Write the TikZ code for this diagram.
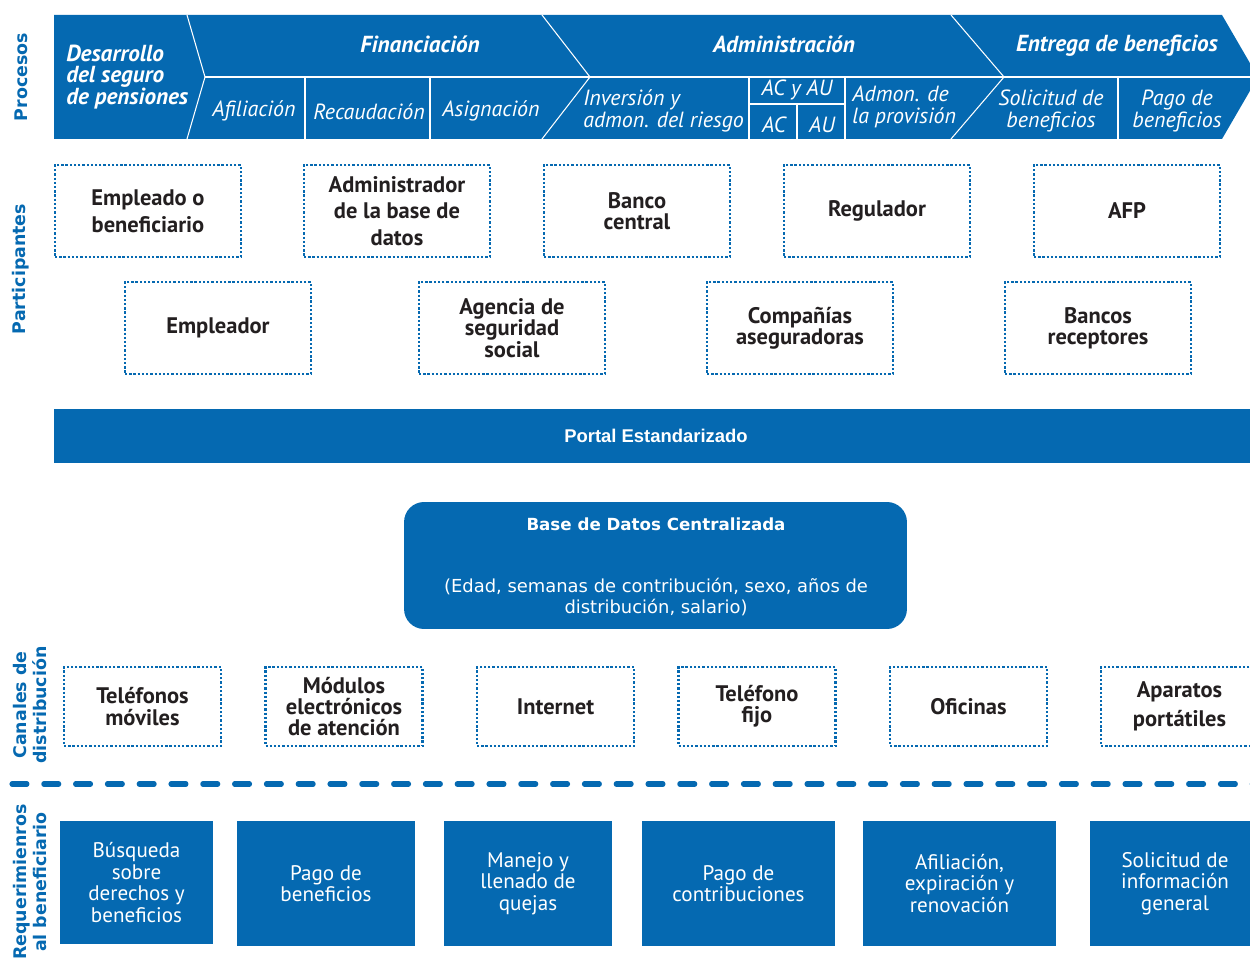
\documentclass[tikz,border=0pt]{standalone}
\usepackage{fontspec}
\setmainfont{PT Sans}
\newfontfamily\dejavu{DejaVu Sans}
\newfontfamily\arialsans{Liberation Sans}

\definecolor{azul}{HTML}{0569B1}
\definecolor{tinta}{HTML}{231F20}

\tikzset{
  participante/.style={draw=azul, line width=1.3pt, dash pattern=on 1.3pt off 1.1pt,
    fill=white, text=tinta, align=center, inner sep=0pt,
    minimum width=3.72cm, minimum height=1.84cm,
    font=\fontsize{12.8}{12.2}\selectfont\bfseries},
  canal/.style={participante, minimum width=3.14cm, minimum height=1.58cm},
  requisito/.style={fill=azul, text=white, align=center, inner sep=0pt,
    minimum height=2.5cm, font=\fontsize{12}{12.2}\selectfont},
  seccion/.style={text=azul, rotate=90, align=center,
    font=\dejavu\bfseries\fontsize{9.9}{11}\selectfont},
  proc/.style={text=white, inner sep=0pt, font=\fontsize{12.5}{12.5}\selectfont\itshape},
  procsup/.style={proc, font=\fontsize{13.2}{12.2}\selectfont\bfseries\itshape},
  divisor/.style={white, line width=0.6pt}
}

\begin{document}
\begin{tikzpicture}[x=0.02cm, y=-0.02cm]
  \useasboundingbox (0,0) rectangle (1250,959);
  \clip (0,0) rectangle (1250,959);

  % procesos: banda de flechas
  \fill[azul] (54,15) -- (1222,15) -- (1258,77) -- (1222,139) -- (54,139) -- cycle;
  \draw[divisor] (187,15) -- (205,77) -- (187,139);
  \draw[divisor] (542,15) -- (590,77) -- (542,139);
  \draw[divisor] (951,15) -- (1004,77) -- (951,139);
  \draw[divisor] (205,77) -- (1258,77);
  \draw[divisor] (305,77) -- (305,139);
  \draw[divisor] (430,77) -- (430,139);
  \draw[divisor] (749,77) -- (749,139);
  \draw[divisor] (845,77) -- (845,139);
  \draw[divisor] (749,104) -- (845,104);
  \draw[divisor] (797,104) -- (797,139);
  \draw[divisor] (1118,77) -- (1118,139);

  \node[procsup, align=left, anchor=west] (desarrollo) at (66,77) {Desarrollo\\del seguro\\de pensiones};
  \node[procsup] (financiacion) at (420,44) {Financiación};
  \node[procsup] (administracion) at (784,44) {Administración};
  \node[procsup] (entrega) at (1117,46) {Entrega de beneficios};
  \node[proc] (afiliacion) at (254,111) {Afiliación};
  \node[proc] (recaudacion) at (369,112) {Recaudación};
  \node[proc] (asignacion) at (491,111) {Asignación};
  \node[proc, align=left, anchor=west] (inversion) at (583,111) {Inversión y\\admon. del riesgo};
  \node[proc] (acau) at (797,90) {AC y AU};
  \node[proc] (ac) at (774,125) {AC};
  \node[proc] (au) at (822,125) {AU};
  \node[proc, align=left, anchor=west] (provision) at (852,107) {Admon. de\\la provisión};
  \node[proc, align=center, font=\fontsize{12.5}{13}\selectfont\itshape] (solicitud) at (1051,111) {Solicitud de\\beneficios};
  \node[proc, align=center, font=\fontsize{12.5}{13}\selectfont\itshape] (pagoben) at (1177,111) {Pago de\\beneficios};

  % rotulos laterales
  \node[seccion] (procesos) at (21,77) {Procesos};
  \node[seccion] (participantes) at (21,269) {Participantes};
  \node[seccion] (canales) at (30,705) {Canales de\\distribución};
  \node[seccion] (requerimientos) at (30,882) {Requerimienros\\al beneficiario};

  % participantes
  \node[participante] (empleado) at (148,211) {Empleado o\\[3pt]beneficiario};
  \node[participante] (adminbd) at (397,211) {Administrador\\[3pt]de la base de\\[3pt]datos};
  \node[participante] (banco) at (637,211) {Banco\\central};
  \node[participante] (regulador) at (877,211) {Regulador};
  \node[participante] (afp) at (1127,211) {AFP};
  \node[participante] (empleador) at (218,328) {Empleador};
  \node[participante] (agencia) at (512,328) {Agencia de\\seguridad\\social};
  \node[participante] (companias) at (800,328) {Compañías\\aseguradoras};
  \node[participante] (bancos) at (1098,328) {Bancos\\receptores};

  % portal y base de datos
  \fill[azul] (54,409) rectangle (1258,463);
  \node[text=white, font=\arialsans\bfseries\fontsize{10.5}{12}\selectfont] (portal) at (656,436) {Portal Estandarizado};
  \node[fill=azul, rounded corners=0.4cm, minimum width=10.06cm, minimum height=2.54cm] (bd) at (655.5,565.5) {};
  \node[text=white, font=\dejavu\bfseries\fontsize{9.5}{11}\selectfont] (bdtitulo) at (656,524) {Base de Datos Centralizada};
  \node[text=white, align=center, font=\dejavu\fontsize{10.2}{12.3}\selectfont] (bddatos) at (656,597) {(Edad, semanas de contribución, sexo, años de\\distribución, salario)};

  % canales de distribucion
  \node[canal] (moviles) at (142.5,706.5) {Teléfonos\\móviles};
  \node[canal] (modulos) at (344,706.5) {Módulos\\electrónicos\\de atención};
  \node[canal] (internet) at (555.5,706.5) {Internet};
  \node[canal] (fijo) at (757,706.5) {Teléfono\\fijo};
  \node[canal] (oficinas) at (968.5,706.5) {Oficinas};
  \node[canal] (portatiles) at (1179.5,706.5) {Aparatos\\[4pt]portátiles};

  \coordinate (corteA) at (12,784);
  \coordinate (corteB) at (1262,784);
  \draw[azul, line width=2.9pt, line cap=round, dash pattern=on 8.5pt off 9.6pt] (corteA) -- (corteB);

  % requerimientos al beneficiario
  \node[requisito, minimum width=3.06cm, minimum height=2.46cm] (busqueda) at (136.5,882.5) {Búsqueda\\sobre\\derechos y\\beneficios};
  \node[requisito, minimum width=3.56cm] (pagoben2) at (326,883.5) {Pago de\\beneficios};
  \node[requisito, minimum width=3.36cm] (quejas) at (528,883.5) {Manejo y\\llenado de\\quejas};
  \node[requisito, minimum width=3.86cm] (contrib) at (738.5,883.5) {Pago de\\contribuciones};
  \node[requisito, minimum width=3.86cm] (afilexp) at (959.5,883.5) {Afiliación,\\expiración y\\renovación};
  \node[requisito, minimum width=3.4cm] (infogen) at (1175,883.5) {Solicitud de\\información\\general};
\end{tikzpicture}
\end{document}
